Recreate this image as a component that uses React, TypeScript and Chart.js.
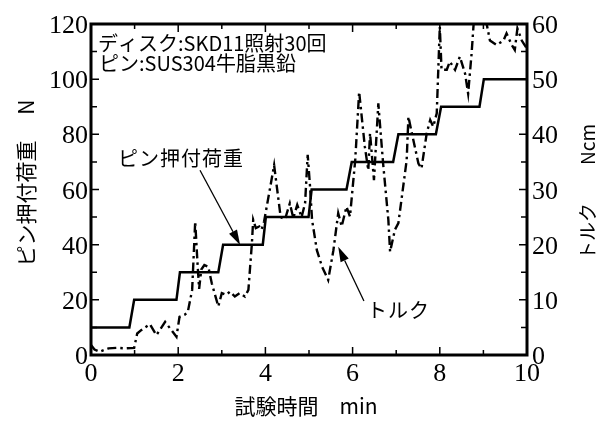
import React, { useEffect, useRef } from "react";
import { Chart, registerables } from "chart.js";

Chart.register(...registerables);

// Pin load (N) vs time (min) – step line
const loadTime = [0, 0.88, 0.99, 1.96, 2.04, 2.92, 3.03, 3.94, 4.01, 4.99, 5.06, 5.86, 5.98, 6.93, 7.05, 7.91, 8.03, 8.91, 9.01, 10];
const loadN = [10, 10, 20, 20, 30, 30, 40, 40, 50, 50, 60, 60, 70, 70, 80, 80, 90, 90, 100, 100];

// Torque (Ncm) vs time (min) – dash-dot line
const torqueTime = [
  0, 0.08, 0.2, 0.4, 0.6, 0.8, 0.99, 1.06, 1.15, 1.35, 1.5, 1.7, 1.96, 2.03, 2.15, 2.22, 2.32, 2.39, 2.44, 2.48,
  2.53, 2.6, 2.69, 2.77, 2.92, 3.0, 3.1, 3.19, 3.3, 3.41, 3.53, 3.61, 3.65, 3.69, 3.72, 3.78, 3.86, 3.91, 3.97,
  4.2, 4.35, 4.45, 4.56, 4.64, 4.73, 4.83, 4.91, 4.97, 5.02, 5.07, 5.18, 5.3, 5.44, 5.56, 5.67, 5.75, 5.86, 5.94,
  6.06, 6.15, 6.28, 6.36, 6.4, 6.49, 6.59, 6.7, 6.82, 6.86, 6.97, 7.05, 7.24, 7.28, 7.36, 7.51, 7.58, 7.7, 7.78,
  7.85, 7.93, 8.0, 8.04, 8.16, 8.23, 8.35, 8.46, 8.58, 8.65, 8.73, 8.78, 8.85, 9.0, 9.08, 9.15, 9.3, 9.46, 9.53,
  9.65, 9.72, 9.78, 9.88, 10,
];
const torqueNcm = [
  1.8, 1.0, 0.6, 1.2, 1.3, 1.2, 1.3, 3.9, 4.5, 5.6, 3.6, 6.0, 3.3, 6.9, 7.3, 7.8, 11.8, 24.2, 17, 12,
  15.5, 16.3, 16, 13, 8.8, 11.2, 10.9, 11.5, 10.6, 11.2, 10.6, 11.8, 16, 20.2, 24.5, 23, 23.3, 22.7, 24.2,
  34.4, 25, 24.6, 27.5, 24.8, 27.2, 25, 27.5, 36.3, 31, 24.5, 19, 16, 13.6, 19, 25.7, 23.3, 26.9, 25.1,
  35.3, 47.7, 37.8, 33.5, 40.2, 31.7, 45.6, 34.7, 24.5, 18.7, 22.7, 23.9, 35.3, 43.2, 40.2, 34.7, 33.8, 40.2, 42.6,
  41.4, 43.8, 59.5, 51.7, 51.7, 53.2, 51.7, 54.1, 51, 47.4, 54.7, 60.5, 63, 62, 59.8, 57, 56.2, 57, 58.3,
  56.2, 55.3, 59.2, 57, 55.5,
];

const xTickStep = 2;
const yLeftStep = 20;
const yRightStep = 10;

const infoLine1 = "ディスク:SKD11照射30回";
const infoLine2 = "ピン:SUS304牛脂黒鉛";
const loadLabel = "ピン押付荷重";
const torqueLabel = "トルク";
const xTitle = "試験時間　min";
const yLeftTitle = "ピン押付荷重　 N";
const yRightTitle = "トルク　　Ncm";

const JP = "'Noto Sans CJK JP'";
const TICK_FONT = "26px 'Liberation Serif'";

function arrow(ctx: CanvasRenderingContext2D, x1: number, y1: number, x2: number, y2: number) {
  const ang = Math.atan2(y2 - y1, x2 - x1);
  const hl = 15, hw = 4.5;
  const bx = x2 - hl * Math.cos(ang), by = y2 - hl * Math.sin(ang);
  ctx.beginPath();
  ctx.moveTo(x1, y1);
  ctx.lineTo(bx, by);
  ctx.lineWidth = 1.3;
  ctx.strokeStyle = "#000";
  ctx.setLineDash([]);
  ctx.stroke();
  ctx.beginPath();
  ctx.moveTo(x2, y2);
  ctx.lineTo(bx + hw * Math.sin(ang), by - hw * Math.cos(ang));
  ctx.lineTo(bx - hw * Math.sin(ang), by + hw * Math.cos(ang));
  ctx.closePath();
  ctx.fillStyle = "#000";
  ctx.fill();
}

function spacedText(ctx: CanvasRenderingContext2D, text: string, x: number, y: number, gap: number) {
  let cx = x;
  for (const ch of Array.from(text)) {
    ctx.fillText(ch, cx, y);
    cx += ctx.measureText(ch).width + gap;
  }
}

const decorPlugin = {
  id: "decor",
  afterDraw(chart: any) {
    const ctx: CanvasRenderingContext2D = chart.ctx;
    const { left, right, top, bottom } = chart.chartArea;
    const xs = chart.scales.x, yl = chart.scales.y, yr = chart.scales.y2;

    // tick labels (from the library's scale ticks)
    ctx.save();
    ctx.fillStyle = "#000";
    ctx.font = TICK_FONT;
    ctx.textBaseline = "alphabetic";
    ctx.textAlign = "center";
    xs.ticks.forEach((t: any) => {
      ctx.fillText(String(t.value), xs.getPixelForValue(t.value), bottom + 26);
    });
    ctx.textAlign = "right";
    yl.ticks.forEach((t: any) => {
      ctx.fillText(String(t.value), left - 3, yl.getPixelForValue(t.value) + 9);
    });
    ctx.textAlign = "left";
    yr.ticks.forEach((t: any) => {
      ctx.fillText(String(t.value), right + 5, yr.getPixelForValue(t.value) + 9);
    });
    ctx.restore();

    ctx.save();
    ctx.setLineDash([]);
    // ticks inward
    ctx.strokeStyle = "#000";
    ctx.lineWidth = 1.5;
    ctx.beginPath();
    for (let v = 0; v <= 10; v += 1) {
      const px = xs.getPixelForValue(v);
      const len = v % 2 === 0 ? 8 : 5;
      ctx.moveTo(px, bottom); ctx.lineTo(px, bottom - len);
      ctx.moveTo(px, top); ctx.lineTo(px, top + len);
    }
    for (let v = 0; v <= 120; v += 10) {
      const py = yl.getPixelForValue(v);
      const len = v % 20 === 0 ? 8 : 6;
      ctx.moveTo(left, py); ctx.lineTo(left + len, py);
    }
    for (let v = 0; v <= 60; v += 5) {
      const py = yr.getPixelForValue(v);
      const len = v % 10 === 0 ? 8 : 6;
      ctx.moveTo(right, py); ctx.lineTo(right - len, py);
    }
    ctx.stroke();
    // frame
    ctx.lineWidth = 3;
    ctx.strokeRect(left, top, right - left, bottom - top);

    // info text
    ctx.fillStyle = "#000";
    ctx.font = `20px ${JP}`;
    ctx.textBaseline = "middle";
    ctx.textAlign = "left";
    ctx.fillText(infoLine1, left + 7, top + 19);
    ctx.fillText(infoLine2, left + 8, top + 39);

    // labels + arrows
    spacedText(ctx, loadLabel, xs.getPixelForValue(0.62), yl.getPixelForValue(71.4), 1);
    spacedText(ctx, torqueLabel, xs.getPixelForValue(6.33), yl.getPixelForValue(16), 1);
    arrow(ctx, xs.getPixelForValue(2.5), yl.getPixelForValue(67), xs.getPixelForValue(3.42), yl.getPixelForValue(39.9));
    arrow(ctx, xs.getPixelForValue(6.26), yl.getPixelForValue(19.6), xs.getPixelForValue(5.67), yl.getPixelForValue(39.2));

    // axis titles
    ctx.font = `21px ${JP}`;
    ctx.textAlign = "center";
    ctx.fillText(xTitle, 306, 406);
    ctx.save();
    ctx.translate(26, 183);
    ctx.rotate(-Math.PI / 2);
    ctx.fillText(yLeftTitle, 0, 0);
    ctx.restore();
    ctx.save();
    ctx.font = `19px ${JP}`;
    ctx.translate(588, 192);
    ctx.rotate(-Math.PI / 2);
    ctx.fillText(yRightTitle, 0, 0);
    ctx.restore();
    ctx.restore();
  },
};

export default function App() {
  const ref = useRef<HTMLCanvasElement | null>(null);
  useEffect(() => {
    if (!ref.current) return;
    const hidden = { display: false };
    const chart = new Chart(ref.current, {
      type: "line",
      data: {
        datasets: [
          {
            label: "load",
            data: loadTime.map((t, i) => ({ x: t, y: loadN[i] })),
            borderColor: "#000",
            borderWidth: 2.5,
            pointRadius: 0,
            tension: 0,
            yAxisID: "y",
          },
          {
            label: "torque",
            data: torqueTime.map((t, i) => ({ x: t, y: torqueNcm[i] })),
            borderColor: "#000",
            borderWidth: 2.4,
            borderDash: [9, 4, 2.5, 4],
            pointRadius: 0,
            tension: 0,
            yAxisID: "y2",
          },
        ],
      },
      options: {
        animation: false,
        responsive: false,
        layout: { padding: { top: 24, left: 0, right: 0, bottom: 0 } },
        plugins: { legend: { display: false }, tooltip: { enabled: false } },
        scales: {
          x: {
            type: "linear",
            min: 0,
            max: 10,
            grid: hidden,
            border: hidden,
            ticks: { stepSize: xTickStep, display: false },
            afterFit: (s: any) => { s.height = 66; },
          },
          y: {
            type: "linear",
            position: "left",
            min: 0,
            max: 120,
            grid: hidden,
            border: hidden,
            ticks: { stepSize: yLeftStep, display: false },
            afterFit: (s: any) => { s.width = 91; },
          },
          y2: {
            type: "linear",
            position: "right",
            min: 0,
            max: 60,
            grid: hidden,
            border: hidden,
            ticks: { stepSize: yRightStep, display: false },
            afterFit: (s: any) => { s.width = 84; },
          },
        },
      },
      plugins: [decorPlugin],
    } as any);
    return () => chart.destroy();
  }, []);
  return (
    <div style={{ position: "fixed", left: 0, top: 0, width: 611, height: 421, background: "#fff" }}>
      <canvas ref={ref} width={611} height={421} />
    </div>
  );
}
